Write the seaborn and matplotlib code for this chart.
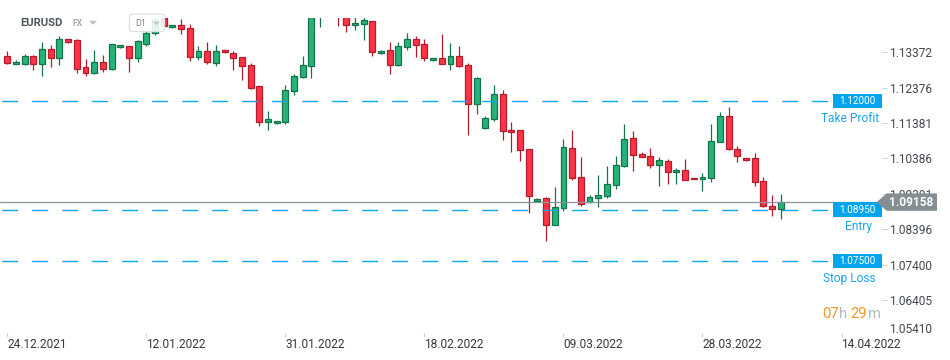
import numpy as np
import pandas as pd
import matplotlib
matplotlib.use("Agg")
import matplotlib.pyplot as plt
import seaborn as sns
from matplotlib import transforms
from matplotlib.patches import Rectangle, Polygon, FancyBboxPatch

# ---------------- data ----------------
opens = [1.13268, 1.13034, 1.13051, 1.13259, 1.13034, 1.13456, 1.13203, 1.13737, 1.13718, 1.12950,
         1.12798, 1.13090, 1.12902, 1.13512, 1.13541, 1.13220, 1.13614, 1.13915, 1.14323, 1.14075,
         1.14131, 1.14047, 1.13231, 1.13400, 1.13062, 1.13428, 1.13344, 1.13231, 1.13006, 1.12415,
         1.11403, 1.11375, 1.11403, 1.12275, 1.12669, 1.12978, 1.14505, 1.14740, 1.14520, 1.14505,
         1.14131, 1.14159, 1.14244, 1.13344, 1.13428, 1.13006, 1.13512, 1.13737, 1.13597, 1.13147,
         1.13203, 1.13034, 1.13259, 1.13006, 1.11926, 1.11234, 1.11487, 1.12190, 1.11178, 1.11178,
         1.10643, 1.09180, 1.09265, 1.08505, 1.08984, 1.10671, 1.09855, 1.09152, 1.09265, 1.09321,
         1.09631, 1.10165, 1.10953, 1.10503, 1.10446, 1.10193, 1.10306, 1.09996, 1.10052, 1.09844,
         1.09799, 1.09827, 1.10840, 1.11571, 1.10643, 1.10390, 1.10390, 1.09743, 1.09040, 1.08955]
highs = [1.13400, 1.13155, 1.13324, 1.13287, 1.13662, 1.13577, 1.13830, 1.13746, 1.13746, 1.13175,
         1.13436, 1.13296, 1.13619, 1.13577, 1.13557, 1.13718, 1.13999, 1.14365, 1.14365, 1.14140,
         1.14309, 1.14168, 1.13549, 1.13662, 1.13577, 1.13436, 1.13400, 1.13240, 1.13071, 1.12424,
         1.11721, 1.11439, 1.12452, 1.12761, 1.13268, 1.14730, 1.14843, 1.14950, 1.14600, 1.14618,
         1.14365, 1.14365, 1.14252, 1.13428, 1.13662, 1.13662, 1.13915, 1.13830, 1.13746, 1.13211,
         1.13887, 1.13633, 1.13549, 1.13062, 1.12669, 1.11571, 1.12452, 1.12303, 1.11403, 1.11186,
         1.10652, 1.09265, 1.09293, 1.09574, 1.10924, 1.11178, 1.10418, 1.09349, 1.09912, 1.10165,
         1.10446, 1.11346, 1.11150, 1.10559, 1.10671, 1.10418, 1.10362, 1.10109, 1.10362, 1.09850,
         1.09968, 1.11346, 1.11684, 1.11825, 1.10728, 1.10398, 1.10531, 1.09855, 1.09349, 1.09377]
lows = [1.13043, 1.13029, 1.13023, 1.12874, 1.12705, 1.12967, 1.13023, 1.13642, 1.12781, 1.12714,
        1.12753, 1.12826, 1.12874, 1.13507, 1.12818, 1.13107, 1.13549, 1.13858, 1.14083, 1.14069,
        1.13895, 1.13136, 1.13155, 1.13034, 1.12995, 1.13366, 1.12874, 1.12593, 1.12348, 1.11307,
        1.11195, 1.11369, 1.11363, 1.12179, 1.12663, 1.12657, 1.14092, 1.14380, 1.14120, 1.13951,
        1.14008, 1.13726, 1.13276, 1.13338, 1.12770, 1.13000, 1.13428, 1.13231, 1.13136, 1.13141,
        1.13029, 1.12865, 1.12972, 1.11054, 1.11645, 1.11228, 1.11431, 1.10896, 1.10576, 1.10322,
        1.08860, 1.09175, 1.08072, 1.08500, 1.08899, 1.09771, 1.09040, 1.09124, 1.09012, 1.09265,
        1.09518, 1.10159, 1.10024, 1.10413, 1.10109, 1.09602, 1.09659, 1.09659, 1.09766, 1.09794,
        1.09462, 1.09715, 1.10835, 1.10615, 1.10277, 1.10328, 1.09602, 1.09012, 1.08759, 1.08675]
closes = [1.13079, 1.13099, 1.13259, 1.13034, 1.13456, 1.13203, 1.13737, 1.13670, 1.12910, 1.12798,
          1.13090, 1.12902, 1.13605, 1.13569, 1.13220, 1.13681, 1.13906, 1.14280, 1.14112, 1.14131,
          1.14036, 1.13231, 1.13400, 1.13090, 1.13400, 1.13372, 1.13203, 1.12978, 1.12376, 1.11403,
          1.11487, 1.11431, 1.12303, 1.12697, 1.13006, 1.14618, 1.14759, 1.14520, 1.14449, 1.14131,
          1.14188, 1.14272, 1.13372, 1.13400, 1.13006, 1.13541, 1.13737, 1.13569, 1.13203, 1.13203,
          1.13034, 1.13259, 1.12978, 1.11926, 1.12640, 1.11515, 1.12190, 1.11150, 1.11121, 1.10615,
          1.09321, 1.09237, 1.08505, 1.09012, 1.10699, 1.09827, 1.09096, 1.09293, 1.09349, 1.09659,
          1.10193, 1.10924, 1.10475, 1.10418, 1.10193, 1.10334, 1.09996, 1.10052, 1.09771, 1.09799,
          1.09855, 1.10868, 1.11571, 1.10643, 1.10446, 1.10334, 1.09715, 1.09040, 1.08955, 1.09158]

date_labels = ["24.12.2021", "12.01.2022", "31.01.2022", "18.02.2022",
               "09.03.2022", "28.03.2022", "14.04.2022"]
date_tick_idx = [0, 16, 32, 48, 64, 80, 96]
price_ticks = [1.13372, 1.12376, 1.11381, 1.10386, 1.09391, 1.08396, 1.07400, 1.06405, 1.05410]

levels = [1.12000, 1.08950, 1.07500]
level_names = ["Take Profit", "Entry", "Stop Loss"]

symbol = "EURUSD"
market = "FX"
interval = "D1"
countdown_parts = ["07", "h", "29", "m"]

# ---------------- style ----------------
sns.set_theme(style="white")
plt.rcParams['font.family'] = ['Roboto', 'DejaVu Sans']
plt.rcParams['lines.scale_dashes'] = False

GREEN_F, GREEN_E = "#27b27a", "#157349"
RED_F, RED_E = "#ff3346", "#b11d2d"
BLUE = "#12a6ee"
GRAY_LINE = "#8a959a"

df = pd.DataFrame(dict(open=opens, high=highs, low=lows, close=closes))
df["idx"] = np.arange(len(df))
df["up"] = df["close"] >= df["open"]
df["fill"] = np.where(df["up"], GREEN_F, RED_F)
df["edge"] = np.where(df["up"], GREEN_E, RED_E)
df["bottom"] = df[["open", "close"]].min(axis=1)
df["height"] = (df["close"] - df["open"]).abs()

W, H = 950, 360
fig = plt.figure(figsize=(W / 100, H / 100), dpi=100)
fig.patch.set_facecolor("white")
AX_TOP, AX_BOT, AX_RIGHT = 17.5, 333.0, 882.0
ax = fig.add_axes([0, 1 - AX_BOT / H, AX_RIGHT / W, (AX_BOT - AX_TOP) / H])
ax.set_facecolor("white")

# axis scale: pixel x = 7.3 + 8.69*i ; price scale from tick spacing
x0, dx = 7.3, 8.69
ax.set_xlim((0 - x0) / dx, (AX_RIGHT - x0) / dx)
ppu = 3555.0
ax.set_ylim(1.13372 - (AX_BOT - 52.3) / ppu, 1.13372 + (52.3 - AX_TOP) / ppu)
ylo, yhi = ax.get_ylim()
dpp = (yhi - ylo) / (AX_BOT - AX_TOP)  # data units per pixel

# candles
ax.vlines(df["idx"], df["low"], df["high"], colors=df["edge"], lw=0.9, zorder=2)
ax.bar(df["idx"], df["height"], bottom=df["bottom"], width=0.68,
       color=df["fill"], edgecolor=df["edge"], linewidth=0.9, zorder=3)

for s in ax.spines.values():
    s.set_visible(False)
ax.grid(False)

# pixel transform for decorations (y downward)
tf = transforms.Affine2D().scale(1 / W, -1 / H).translate(0, 1) + fig.transFigure
bl = transforms.blended_transform_factory(tf, ax.transData)

# ticks
in_range = [t for t in price_ticks if ylo <= t <= yhi]
out_range = [t for t in price_ticks if not (ylo <= t <= yhi)]
ax.set_yticks(in_range)
ax.set_yticklabels([f"{t:.5f}" for t in in_range])
ax.yaxis.tick_right()
ax.tick_params(axis="y", right=True, left=False, labelright=True, labelleft=False,
               length=3.6, width=0.8, color="#cfd4d7", pad=1.5,
               labelsize=8.6, labelcolor="#41474d", direction="out")
for t in out_range:
    fig.text(889, 329.3, f"{t:.5f}", transform=tf, fontsize=8.6, color="#41474d",
             ha="left", va="center")

ax.set_xticks(date_tick_idx)
ax.set_xticklabels(date_labels, ha="left")
ax.tick_params(axis="x", bottom=True, length=2.9, width=0.8, color="#cfd4d7",
               pad=0.8, labelsize=8.6, labelcolor="#33383d", direction="out")

# trade levels
for lvl, name, cx in zip(levels, level_names, [850.0, 858.5, 849.5]):
    ax.axhline(lvl, xmin=0, xmax=828 / AX_RIGHT, color=BLUE, lw=1.0,
               ls=(20.4, (11.5, 10.1)), zorder=4)
    rect = Rectangle((833, lvl - 7.3 * dpp), 48.7, 14.6 * dpp, transform=bl,
                     facecolor="#05a5ee", edgecolor="none", zorder=6, clip_on=False)
    fig.add_artist(rect)
    fig.text(857.3, lvl, f"{lvl:.5f}", transform=bl, color="white", fontsize=7.2,
             ha="center", va="center", zorder=7)
    fig.text(cx, lvl, name, transform=bl + transforms.ScaledTranslation(0, -17 / 100, fig.dpi_scale_trans),
             color="#1ba3e6", fontsize=8.6, ha="center", va="center", zorder=7)

# current price line and label
last = closes[-1]
ax.axhline(last, xmin=0, xmax=877 / AX_RIGHT, color=GRAY_LINE, lw=0.9, zorder=4)
hh = 8.7 * dpp
poly = Polygon([(876.7, last), (886.7, last + hh), (937, last + hh),
                (937, last - hh), (886.7, last - hh)], closed=True, transform=bl,
               facecolor="#858e93", edgecolor="none", zorder=8)
fig.add_artist(poly)
fig.text(911.5, last, f"{last:.5f}", transform=bl, color="white", fontsize=8.6,
         fontweight="bold", ha="center", va="center", zorder=9)

# header
fig.text(20.5, 23.5, symbol, transform=tf, fontsize=8.1, fontweight="bold",
         color="#4c555d", ha="left", va="center", zorder=9)
fig.text(72.5, 24.0, market, transform=tf, fontsize=6.2, fontweight="bold",
         color="#a3abb1", ha="left", va="center", zorder=9)
fig.add_artist(Polygon([(89, 20.8), (97, 20.8), (93, 24.8)], closed=True, transform=tf,
                       facecolor="#b9c0c5", edgecolor="none", zorder=9))
fig.add_artist(FancyBboxPatch((129.5, 14.2), 35, 17.4, boxstyle="round,pad=0,rounding_size=3",
                              transform=tf, facecolor=(1, 1, 1, 0.88), edgecolor="#dde1e4",
                              lw=0.9, zorder=8))
fig.text(135, 23.3, interval, transform=tf, fontsize=6.4, color="#7b858c",
         ha="left", va="center", zorder=9)
fig.add_artist(Polygon([(152.7, 21.7), (160, 21.7), (156.35, 25.3)], closed=True, transform=tf,
                       facecolor="#c3c9cd", edgecolor="none", zorder=9))

# countdown
for part, px, col in zip(countdown_parts, [822.5, 838.6, 850.8, 867.6],
                         ["#f7941d", "#b3b8bc", "#f7941d", "#b3b8bc"]):
    fig.text(px, 314.3, part, transform=tf, fontsize=10.6, color=col,
             ha="left", va="center", zorder=9)

fig.savefig("out.png", dpi=100, facecolor="white")
